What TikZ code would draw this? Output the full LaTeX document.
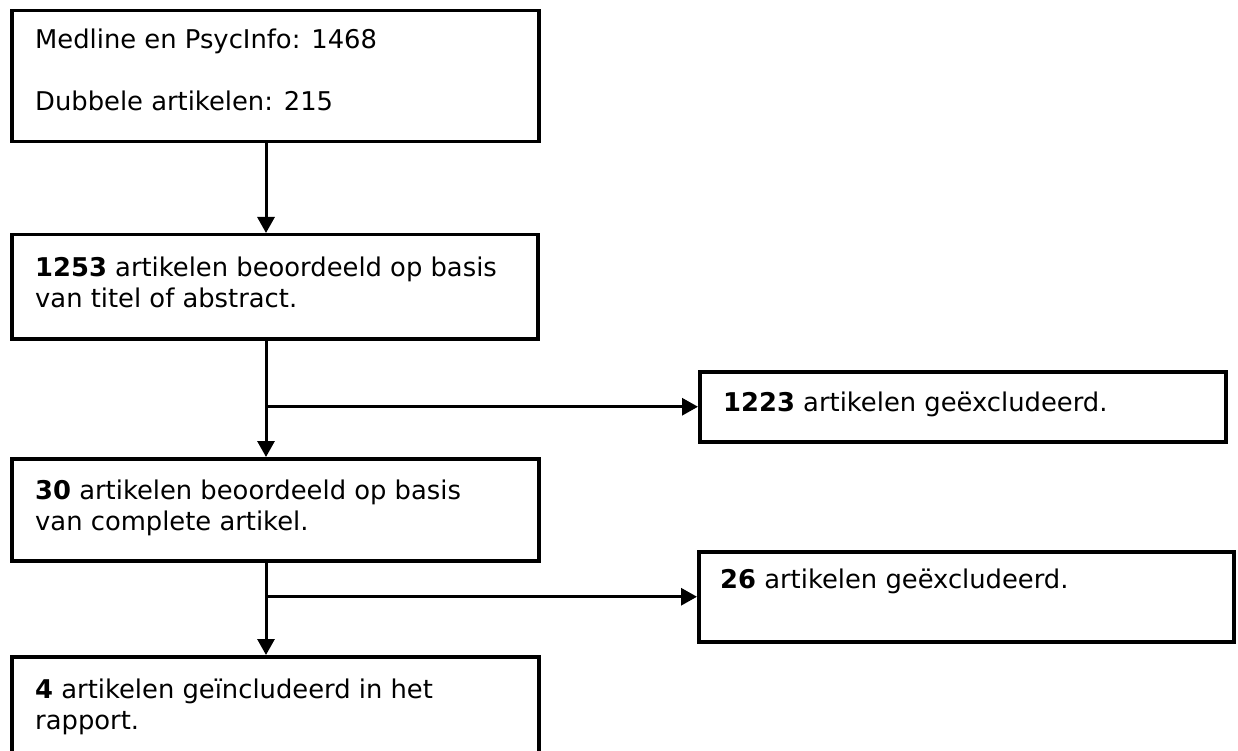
\documentclass[tikz,border=0pt]{standalone}
\usepackage{fontspec}
\setmainfont{DejaVu Sans}
\usetikzlibrary{arrows.meta}
\tikzset{
  box/.style={draw=black, line width=3.5pt, fill=white, rectangle, inner sep=0pt, anchor=north west},
  txt/.style={anchor=base west, inner sep=0pt, align=left, font=\fontsize{25.8}{31}\selectfont},
  conn/.style={line width=3pt, draw=black},
  arr/.style={conn, -{Triangle[length=16pt,width=17pt]}},
}
\begin{document}
\begin{tikzpicture}[x=1pt,y=-1pt]
\useasboundingbox (0,0) rectangle (1238,751);
\clip (0,0) rectangle (1238,751);
\fill[white] (0,0) rectangle (1238,751);
\coordinate (spine) at (266,0);
\node[box, minimum width=527pt, minimum height=131pt] (b1) at (10,9) {};
\node[box, minimum width=526pt, minimum height=104pt] (b2) at (10,233) {};
\node[box, minimum width=527pt, minimum height=102pt] (b3) at (10,457) {};
\node[box, minimum width=527pt, minimum height=140pt] (b4) at (10,655) {};
\node[box, minimum width=526pt, minimum height=70pt] (b5) at (698,370) {};
\node[box, minimum width=535pt, minimum height=90pt] (b6) at (697,550) {};
\node[txt] (t1) at (35,111) {Medline en PsycInfo: 1468\\[31pt]Dubbele artikelen: 215};
\node[txt] (t2) at (35,307) {\textbf{1253} artikelen beoordeeld op basis\\van titel of abstract.};
\node[txt] (t3) at (35,530) {\textbf{30} artikelen beoordeeld op basis\\van complete artikel.};
\node[txt] (t4) at (35,729) {\textbf{4} artikelen geïncludeerd in het\\rapport.};
\node[txt] (t5) at (723,411) {\textbf{1223} artikelen geëxcludeerd.};
\node[txt] (t6) at (720,588) {\textbf{26} artikelen geëxcludeerd.};
\draw[arr] (b1.south -| spine) -- (b2.north -| spine);
\draw[arr] (b2.south -| spine) -- (b3.north -| spine);
\draw[arr] (b3.south -| spine) -- (b4.north -| spine);
\draw[arr] (spine |- b5.west) -- (b5.west);
\draw[arr] (spine |- b6.west) -- (b6.west);
\end{tikzpicture}
\end{document}
